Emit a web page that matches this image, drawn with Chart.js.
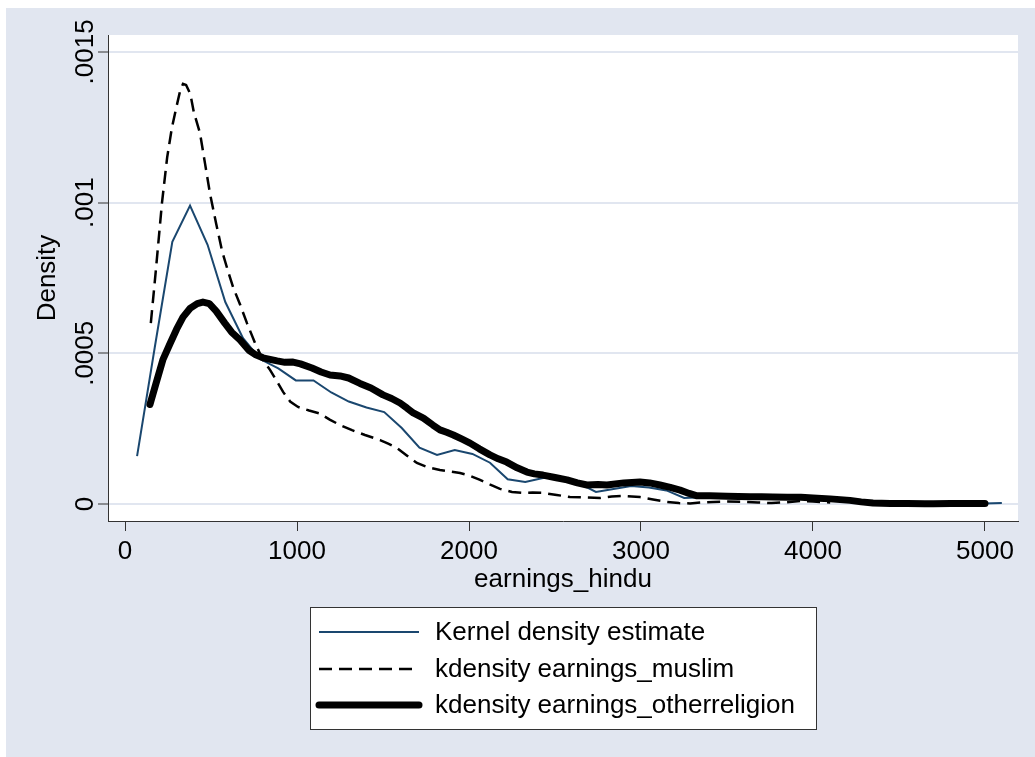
<!DOCTYPE html>
<html>
<head>
<meta charset="utf-8">
<script src="https://cdn.jsdelivr.net/npm/chart.js@4.4.1/dist/chart.umd.min.js"></script>
<style>
  html, body { margin: 0; padding: 0; background: #fff; }
  #wrap { width: 1035px; height: 757px; }
</style>
</head>
<body>
<div id="wrap"><canvas id="kd" width="1035" height="757"></canvas></div>
<script>
// --- data ---
const hinduX = [70, 173, 275, 378, 480, 583, 686, 788, 891, 993, 1096, 1199, 1301, 1404, 1507, 1609, 1712, 1814, 1917, 2020,
  2122, 2225, 2327, 2430, 2533, 2635, 2738, 2840, 2943, 3046, 3148, 3251, 3354, 3456, 3559, 3661, 3764, 3867, 3969, 4072,
  4174, 4277, 4380, 4482, 4585, 4688, 4790, 4893, 4995, 5098];
const hinduY = [.000159, .00052, .00087, .00099, .00086, .00067, .00055, .00048, .00045, .00041, .00041, .00037, .00034, .00032, .000305, .000252, .000187, .000163, .000179, .000166,
  .000137, .000082, .000073, .000086, .000088, .00007, .00004, .00005, .00006, .000055, .000045, .00002, .000022, .000022, .000022, .00002, .00002, .000018, .000018, .000015,
  .000012, .000006, .000003, .000002, .000002, .000002, .000002, .000002, .000002, .000003];

const muslimX = [150, 180, 215, 245, 273, 300, 320, 337, 355, 380, 400, 436, 465, 494, 530, 564, 600, 628, 670, 709, 756, 800,
  843, 880, 919, 960, 1006, 1070, 1134, 1190, 1250, 1320, 1395, 1483, 1530, 1581, 1640, 1697, 1760, 1831, 1890, 1948,
  2000, 2064, 2120, 2180, 2250, 2314, 2370, 2430, 2510, 2587, 2680, 2762, 2830, 2895, 2994, 3070, 3151, 3220, 3285, 3350,
  3419, 3500, 3593, 3680, 3760, 3850, 3930, 4000, 4100];
const muslimY = [.0006, .00078, .001, .00115, .00125, .00132, .00137, .001394, .00139, .00136, .0013, .00123, .00113, .00103, .00093, .00084, .00077, .00072, .00066, .0006, .000534, .00048,
  .000445, .00041, .000372, .00034, .000322, .00031, .0003, .00028, .000262, .000245, .000229, .000212, .0002, .000186, .00016, .000136, .000122, .000113, .000108, .000103,
  .000095, .00008, .000065, .00005, .00004, .000037, .000038, .000037, .00003, .000023, .000022, .00002, .000025, .000027, .000023, .000015, .000007, .000003, .000002, .000005,
  .000007, .000008, .000007, .000005, .000003, .000006, .00001, .000008, .000005];

const otherX = [145, 180, 221, 260, 300, 337, 380, 420, 453, 490, 530, 580, 620, 669, 720, 760, 802, 884, 930, 977,
  1020, 1087, 1140, 1192, 1250, 1300, 1366, 1430, 1500, 1550, 1599, 1640, 1676, 1735, 1790, 1831, 1870, 1909, 1960, 2006,
  2060, 2122, 2170, 2219, 2280, 2337, 2380, 2430, 2500, 2570, 2630, 2686, 2750, 2802, 2900, 2994, 3050, 3110, 3170, 3227,
  3280, 3326, 3400, 3500, 3634, 3700, 3767, 3850, 3930, 4000, 4100, 4215, 4280, 4349, 4450, 4550, 4650, 4700, 4800, 4900, 5000];
const otherY = [.00033, .0004, .00048, .00053, .00058, .00062, .00065, .000665, .00067, .000665, .00064, .0006, .00057, .000544, .00051, .000495, .000485, .000475, .00047, .000471,
  .000465, .000451, .000438, .000428, .000425, .000418, .0004, .000385, .000362, .00035, .000335, .000318, .000302, .000285, .000262, .000246, .000238, .000229, .000215, .000202,
  .000183, .000163, .00015, .000139, .00012, .000106, .0001, .000096, .000088, .00008, .00007, .000063, .000065, .000063, .00007, .000073, .00007, .000063, .000055, .000046,
  .000035, .000027, .000027, .000026, .000024, .000024, .000023, .000022, .000022, .00002, .000017, .000012, .000007, .000003, .000002, .000002, .000001, .000001, .000002, .000002, .000002];

const seriesNames = ['Kernel density estimate', 'kdensity earnings_muslim', 'kdensity earnings_otherreligion'];
const xTicks = [0, 1000, 2000, 3000, 4000, 5000];
const yTicks = [0, .0005, .001, .0015];
const yTickLabels = ['0', '.0005', '.001', '.0015'];
const xTitle = 'earnings_hindu';
const yTitle = 'Density';

// --- look ---
const BG = '#e1e6f0';
const AXIS = '#333333';
const FONT = '26px "Liberation Sans", Arial, sans-serif';

const pts = (xs, ys) => xs.map((x, i) => ({ x: x, y: ys[i] }));

// fondo, etiquetas y leyenda dibujados a mano (estilo Stata)
const stataFrame = {
  id: 'stataFrame',
  beforeDraw(chart) {
    const { ctx, chartArea: a, width, height } = chart;
    ctx.save();
    ctx.fillStyle = '#fff';
    ctx.fillRect(0, 0, width, height);
    ctx.fillStyle = BG;
    ctx.fillRect(6, 8, width - 6, height - 8);
    ctx.fillStyle = '#fff';
    ctx.fillRect(a.left, a.top, a.right - a.left, a.bottom - a.top);
    ctx.restore();
  },
  afterDraw(chart) {
    const { ctx, chartArea: a } = chart;
    const xs = chart.scales.x, ys = chart.scales.y;
    ctx.save();
    ctx.font = FONT;
    ctx.fillStyle = '#000';
    ctx.textAlign = 'center';
    ctx.textBaseline = 'middle';

    // x tick labels + title
    xTicks.forEach(v => ctx.fillText(String(v), xs.getPixelForValue(v), 552));
    ctx.fillText(xTitle, (a.left + a.right) / 2, 580);

    // y tick labels (rotated) + title
    yTicks.forEach((v, i) => {
      ctx.save();
      ctx.translate(86, ys.getPixelForValue(v));
      ctx.rotate(-Math.PI / 2);
      ctx.fillText(yTickLabels[i], 0, 0);
      ctx.restore();
    });
    ctx.save();
    ctx.translate(48, (a.top + a.bottom) / 2);
    ctx.rotate(-Math.PI / 2);
    ctx.fillText(yTitle, 0, 0);
    ctx.restore();

    // legend box
    const bx = 310, by = 607, bw = 506, bh = 122;
    ctx.fillStyle = '#fff';
    ctx.fillRect(bx, by, bw, bh);
    ctx.strokeStyle = AXIS;
    ctx.lineWidth = 1;
    ctx.strokeRect(bx + 0.5, by + 0.5, bw, bh);

    const rows = [632, 669, 705];
    chart.data.datasets.forEach((ds, i) => {
      ctx.beginPath();
      ctx.strokeStyle = ds.borderColor;
      ctx.lineWidth = ds.borderWidth;
      ctx.lineCap = ds.borderWidth > 4 ? 'round' : 'butt';
      ctx.setLineDash(ds.borderDash || []);
      ctx.moveTo(319, rows[i]);
      ctx.lineTo(419, rows[i]);
      ctx.stroke();
      ctx.setLineDash([]);
      ctx.fillStyle = '#000';
      ctx.textAlign = 'left';
      ctx.fillText(seriesNames[i], 435, rows[i] + 1);
    });
    ctx.restore();
  }
};

new Chart(document.getElementById('kd'), {
  type: 'line',
  data: {
    datasets: [
      {
        label: seriesNames[0],
        data: pts(hinduX, hinduY),
        borderColor: '#1a476f',
        borderWidth: 2,
        order: 3
      },
      {
        label: seriesNames[1],
        data: pts(muslimX, muslimY),
        borderColor: '#000000',
        borderWidth: 2.5,
        borderDash: [13, 7],
        order: 2
      },
      {
        label: seriesNames[2],
        data: pts(otherX, otherY),
        borderColor: '#000000',
        borderWidth: 7,
        borderJoinStyle: 'round',
        borderCapStyle: 'round',
        order: 1
      }
    ]
  },
  options: {
    responsive: false,
    animation: false,
    devicePixelRatio: 1,
    elements: {
      point: { radius: 0, hoverRadius: 0 },
      line: { tension: 0, fill: false }
    },
    layout: { padding: { top: 35, right: 17, left: 0, bottom: 0 } },
    plugins: {
      legend: { display: false },
      tooltip: { enabled: false }
    },
    scales: {
      x: {
        type: 'linear',
        min: -99,
        max: 5192,
        afterBuildTicks: s => { s.ticks = xTicks.map(v => ({ value: v })); },
        afterFit: s => { s.height = 236; },
        ticks: { display: false },
        grid: {
          drawOnChartArea: false,
          drawTicks: true,
          tickLength: 10,
          tickColor: AXIS,
          tickWidth: 1
        },
        border: { display: true, color: AXIS, width: 1 }
      },
      y: {
        type: 'linear',
        min: -0.0000564,
        max: 0.001556,
        afterBuildTicks: s => { s.ticks = yTicks.map(v => ({ value: v })); },
        afterFit: s => { s.width = 108; },
        ticks: { display: false },
        grid: {
          color: BG,
          lineWidth: 2,
          drawTicks: true,
          tickLength: 10,
          tickColor: AXIS,
          tickWidth: 1
        },
        border: { display: true, color: AXIS, width: 1 }
      }
    }
  },
  plugins: [stataFrame]
});
</script>
</body>
</html>
